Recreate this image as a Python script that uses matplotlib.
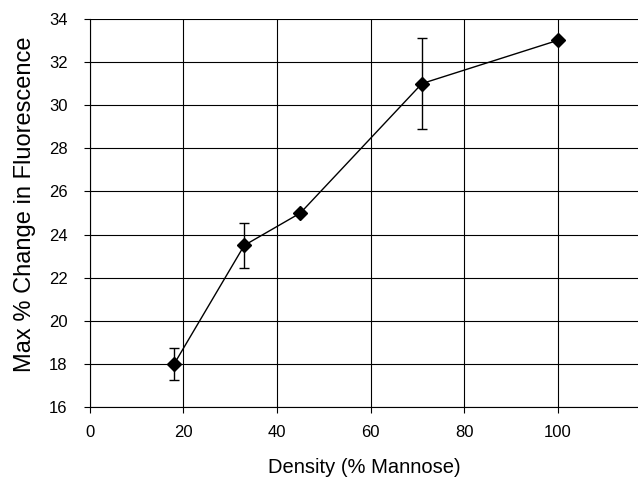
import matplotlib
matplotlib.use("Agg")
import matplotlib.pyplot as plt

plt.rcParams['font.family'] = ['Liberation Sans', 'DejaVu Sans']

# datos
densidad = [18, 33, 45, 71, 100]
cambio_max = [18.0, 23.5, 25.0, 31.0, 33.0]
error = [0.72, 1.05, 0.0, 2.12, 0.0]

fig = plt.figure(figsize=(6.38, 4.83), dpi=100)
ax = fig.add_axes([0.141, 0.157, 0.859, 0.804])

ax.errorbar(densidad, cambio_max, yerr=error, color='black', linewidth=1,
            marker='D', markersize=7, elinewidth=1, capsize=3.5, capthick=1)

ax.set_xlim(0, 117.2)
ax.set_ylim(16, 34)
ax.set_xticks(range(0, 101, 20))
ax.set_yticks(range(16, 35, 2))
ax.grid(True, color='black', linewidth=0.8)
ax.set_axisbelow(True)

for lado in ['top', 'right']:
    ax.spines[lado].set_visible(False)
ax.spines['left'].set_linewidth(0.8)
ax.spines['bottom'].set_linewidth(0.8)

ax.tick_params(axis='both', direction='out', length=4, width=0.8, labelsize=12)
ax.tick_params(axis='y', pad=12)
ax.tick_params(axis='x', pad=9)
ax.set_xlabel('Density (% Mannose)', fontsize=14.5, labelpad=13)

# etiqueta del eje y colocada a mano, un poco mas arriba del centro
fig.text(25 / 638, 1 - 204 / 483, 'Max % Change in Fluorescence', fontsize=17,
         rotation=90, ha='center', va='center')

fig.savefig('out.png', dpi=100)
